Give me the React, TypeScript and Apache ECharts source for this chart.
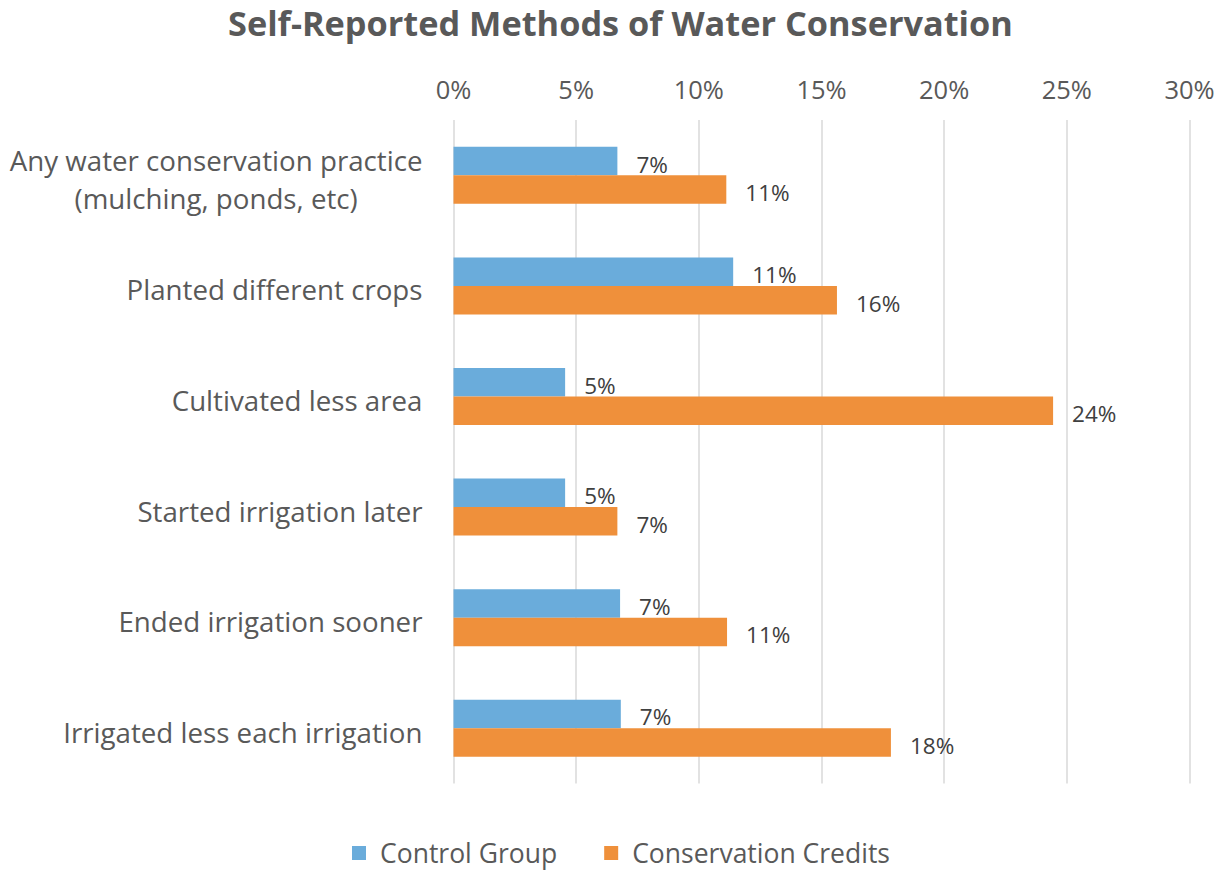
import React, { useEffect, useRef } from "react";
import * as echarts from "echarts";

const categories = [
  "Any water conservation practice\n(mulching, ponds, etc)",
  "Planted different crops",
  "Cultivated less area",
  "Started irrigation later",
  "Ended irrigation sooner",
  "Irrigated less each irrigation",
];
const controlGroup = [6.68, 11.4, 4.55, 4.55, 6.79, 6.82];
const conservationCredits = [11.12, 15.63, 24.44, 6.68, 11.15, 17.83];
const seriesNames = ["Control Group", "Conservation Credits"];
const xTicks = { min: 0, max: 30, interval: 5 };

const FONT = "'Open Sans', Lato, sans-serif";
const TEXT = "#595959";

export default function App() {
  const ref = useRef<HTMLDivElement>(null);
  useEffect(() => {
    if (!ref.current) return;
    const chart = echarts.init(ref.current, null, { renderer: "svg" });
    const labelOpt = {
      show: true,
      position: "right",
      distance: 19,
      offset: [0, 3],
      color: "#404040",
      fontFamily: FONT,
      fontSize: 22.5,
      formatter: (p: any) => Math.round(p.value) + "%",
    };
    chart.setOption({
      animation: false,
      backgroundColor: "#ffffff",
      title: {
        text: "Self-Reported Methods of Water Conservation",
        left: 223,
        top: 0,
        textStyle: { fontFamily: FONT, fontWeight: "bold", fontSize: 34.3, color: TEXT },
      },
      legend: {
        left: 352,
        top: 838,
        padding: 0,
        icon: "rect",
        itemWidth: 14,
        itemHeight: 14,
        itemGap: 47,
        textStyle: {
          fontFamily: FONT,
          fontSize: 26.5,
          lineHeight: 30,
          color: TEXT,
          padding: [0, 0, 0, 9],
        },
        data: seriesNames,
      },
      grid: { left: 453.5, right: 30.5, top: 120, bottom: 87.5, containLabel: false },
      xAxis: {
        type: "value",
        position: "top",
        min: xTicks.min,
        max: xTicks.max,
        interval: xTicks.interval,
        axisLine: { show: false },
        axisTick: { show: false },
        splitLine: { show: true, lineStyle: { color: "#d9d9d9", width: 1.5 } },
        axisLabel: {
          formatter: "{value}%",
          margin: 18,
          fontFamily: FONT,
          fontSize: 25.5,
          color: TEXT,
        },
      },
      yAxis: {
        type: "category",
        inverse: true,
        data: categories,
        axisLine: { show: false },
        axisTick: { show: false },
        axisLabel: {
          margin: 31,
          fontFamily: FONT,
          fontSize: 27.7,
          color: TEXT,
          padding: [7, 0, 0, 0],
          formatter: (v: string) =>
            v.includes("\n") ? v.split("\n").map((s) => `{c|${s}}`).join("\n") : v,
          rich: {
            c: { align: "center", fontFamily: FONT, fontSize: 27.7, color: TEXT, lineHeight: 38 },
          },
        },
      },
      series: [
        {
          name: seriesNames[0],
          type: "bar",
          data: controlGroup,
          barWidth: 28.5,
          barGap: "0%",
          itemStyle: { color: "#6aacdb" },
          label: labelOpt,
        },
        {
          name: seriesNames[1],
          type: "bar",
          data: conservationCredits,
          barWidth: 28.5,
          barGap: "0%",
          itemStyle: { color: "#ef903b" },
          label: labelOpt,
        },
      ],
    });
    return () => chart.dispose();
  }, []);
  return (
    <div
      ref={ref}
      style={{ position: "fixed", left: 0, top: 0, width: 1220, height: 871 }}
    />
  );
}
